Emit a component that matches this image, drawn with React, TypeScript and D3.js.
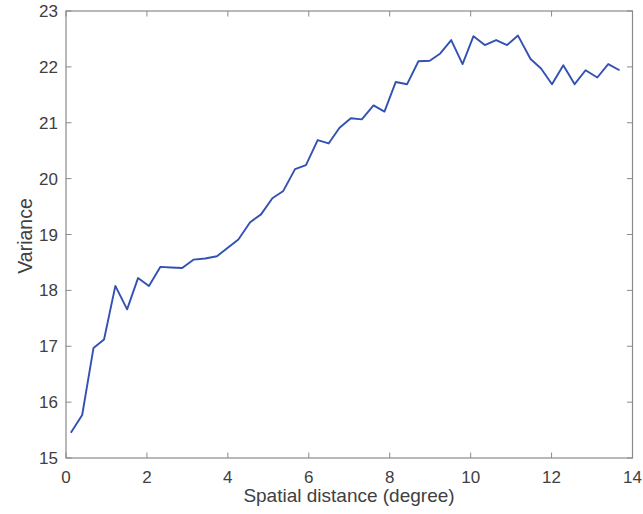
import React from "react";
import * as d3 from "d3";

const distance = [
  0.12, 0.4, 0.68, 0.94, 1.22, 1.51, 1.78, 2.05, 2.33, 2.6, 2.87, 3.15, 3.44, 3.73, 3.99,
  4.26, 4.55, 4.82, 5.1, 5.37, 5.66, 5.93, 6.22, 6.49, 6.76, 7.04, 7.31, 7.6, 7.87, 8.15,
  8.43, 8.71, 8.99, 9.25, 9.52, 9.8, 10.07, 10.35, 10.63, 10.9, 11.17, 11.48, 11.74, 12.01,
  12.29, 12.57, 12.84, 13.13, 13.4, 13.68,
];
const variance = [
  15.45, 15.77, 16.97, 17.12, 18.08, 17.66, 18.22, 18.08, 18.42, 18.41, 18.4, 18.55, 18.57,
  18.61, 18.76, 18.91, 19.22, 19.36, 19.65, 19.78, 20.17, 20.24, 20.69, 20.63, 20.91, 21.08,
  21.06, 21.31, 21.2, 21.73, 21.69, 22.1, 22.11, 22.24, 22.48, 22.05, 22.55, 22.39, 22.48,
  22.39, 22.56, 22.14, 21.97, 21.69, 22.03, 21.69, 21.94, 21.81, 22.05, 21.94,
];
const xTicks = [0, 2, 4, 6, 8, 10, 12, 14];
const yTicks = [15, 16, 17, 18, 19, 20, 21, 22, 23];

const W = 643;
const H = 514;
const L = 66, R = 632.5, T = 11, B = 458;

export default function App() {
  const x = d3.scaleLinear().domain([0, 14]).range([L, R]);
  const y = d3.scaleLinear().domain([15, 23]).range([B, T]);
  const pts = distance.map((d, i) => [d, variance[i]] as [number, number]);
  const line = d3.line<[number, number]>().x((d) => x(d[0])).y((d) => y(d[1]))(pts) || "";
  const axisColor = "#8a8a8a";
  const textColor = "#404040";
  const tick = 5.5;
  const font = "'Liberation Sans', Arial, sans-serif";
  return (
    <svg width={W} height={H} style={{ position: "absolute", left: 0, top: 0, background: "#fff" }}>
      <rect x={0} y={0} width={W} height={H} fill="#fff" />
      {xTicks.map((t) => (
        <g key={"x" + t}>
          <line x1={x(t)} x2={x(t)} y1={B} y2={B - tick} stroke={axisColor} strokeWidth={1} />
          <line x1={x(t)} x2={x(t)} y1={T} y2={T + tick} stroke={axisColor} strokeWidth={1} />
          <text x={x(t)} y={482.5} textAnchor="middle" fontSize={17} fontFamily={font} fill={textColor}>
            {t}
          </text>
        </g>
      ))}
      {yTicks.map((t) => (
        <g key={"y" + t}>
          <line x1={L} x2={L + tick} y1={y(t)} y2={y(t)} stroke={axisColor} strokeWidth={1} />
          <line x1={R} x2={R - tick} y1={y(t)} y2={y(t)} stroke={axisColor} strokeWidth={1} />
          <text x={58} y={y(t)} dy="0.36em" textAnchor="end" fontSize={17} fontFamily={font} fill={textColor}>
            {t}
          </text>
        </g>
      ))}
      <rect x={L} y={T} width={R - L} height={B - T} fill="none" stroke={axisColor} strokeWidth={1.2} />
      <path d={line} fill="none" stroke="#3351b3" strokeWidth={1.9} strokeLinejoin="round" />
      <text x={349} y={502} textAnchor="middle" fontSize={19} fontFamily={font} fill={textColor}>
        Spatial distance (degree)
      </text>
      <text
        transform={`translate(32,236) rotate(-90)`}
        textAnchor="middle"
        fontSize={19.5}
        fontFamily={font}
        fill={textColor}
      >
        Variance
      </text>
    </svg>
  );
}
